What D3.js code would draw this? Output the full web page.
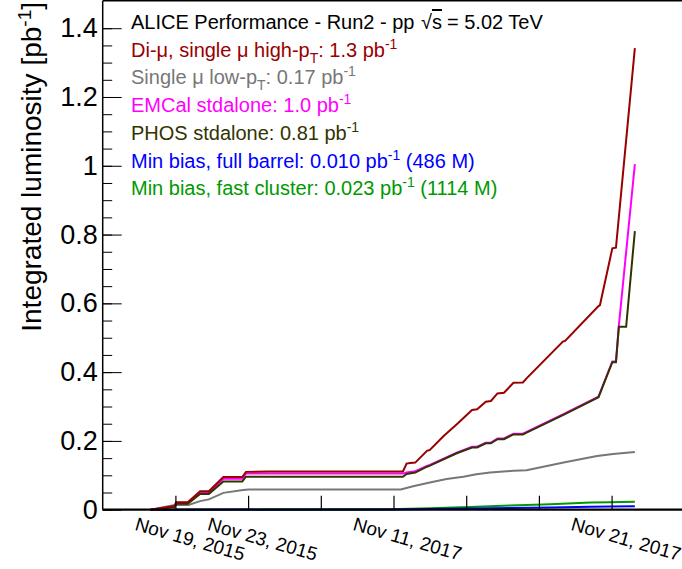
<!DOCTYPE html>
<html>
<head>
<meta charset="utf-8">
<script src="https://cdn.jsdelivr.net/npm/d3@7"></script>
<style>
  body { margin: 0; background: #fff; }
  svg { display: block; }
  text { font-family: "Liberation Sans", Arial, Helvetica, sans-serif; }
</style>
</head>
<body>
<svg id="chart" width="682" height="569"></svg>
<script>
// ---- axis definitions -------------------------------------------------
// x runs over a compressed data-taking index; labelled ticks carry the dates
const xTickValues = [1, 2, 3, 4, 5, 6, 7];
const xTickLabels = ["Nov 19, 2015", "Nov 23, 2015", "", "Nov 11, 2017", "", "", "Nov 21, 2017"];
const yMajorTicks = [0, 0.2, 0.4, 0.6, 0.8, 1.0, 1.2, 1.4];
const yTickLabels = ["0", "0.2", "0.4", "0.6", "0.8", "1", "1.2", "1.4"];

// ---- integrated luminosity per trigger class [pb^-1] --------------------
const diMuon = [
  [0.66, 0], [0.99, 0.011], [1.01, 0.022], [1.17, 0.022], [1.34, 0.054], [1.46, 0.054],
  [1.66, 0.095], [1.92, 0.095], [1.97, 0.110], [2.30, 0.111], [4.13, 0.111],
  [4.18, 0.134], [4.23, 0.136], [4.30, 0.137], [4.46, 0.171], [4.50, 0.174],
  [4.69, 0.214], [4.89, 0.252], [5.08, 0.290], [5.15, 0.292], [5.27, 0.314],
  [5.34, 0.316], [5.43, 0.338], [5.52, 0.340], [5.65, 0.369], [5.78, 0.370],
  [5.83, 0.382], [6.33, 0.489], [6.36, 0.491], [6.82, 0.592], [6.84, 0.595],
  [7.01, 0.760], [7.06, 0.762], [7.32, 1.342]
];
const singleMuLow = [
  [0.66, 0], [0.99, 0.014], [1.18, 0.014], [1.34, 0.025], [1.46, 0.030], [1.66, 0.049],
  [1.93, 0.057], [2.01, 0.059], [4.10, 0.059], [4.27, 0.068], [4.50, 0.079],
  [4.73, 0.089], [4.96, 0.096], [5.14, 0.103], [5.33, 0.108], [5.65, 0.113],
  [5.83, 0.115], [6.34, 0.137], [6.80, 0.156], [7.02, 0.162], [7.32, 0.168]
];
const emcal = [
  [0.66, 0], [0.99, 0.010], [1.01, 0.020], [1.17, 0.020], [1.34, 0.051], [1.46, 0.051],
  [1.66, 0.090], [1.92, 0.090], [1.97, 0.105], [4.13, 0.105], [4.18, 0.108],
  [4.30, 0.112], [4.46, 0.127], [4.50, 0.130], [4.87, 0.166], [5.08, 0.183],
  [5.15, 0.183], [5.27, 0.195], [5.34, 0.195], [5.43, 0.207], [5.52, 0.207],
  [5.65, 0.221], [5.78, 0.221], [5.83, 0.226], [6.33, 0.277], [6.82, 0.329],
  [7.01, 0.431], [7.06, 0.431], [7.10, 0.536], [7.32, 1.005]
];
const phos = [
  [0.66, 0], [0.99, 0.008], [1.01, 0.017], [1.17, 0.017], [1.34, 0.046], [1.46, 0.046],
  [1.66, 0.082], [1.92, 0.082], [1.97, 0.096], [4.13, 0.096], [4.18, 0.104],
  [4.30, 0.108], [4.46, 0.125], [4.50, 0.128], [4.87, 0.164], [5.08, 0.181],
  [5.15, 0.181], [5.27, 0.193], [5.34, 0.193], [5.43, 0.205], [5.52, 0.205],
  [5.65, 0.219], [5.78, 0.219], [5.83, 0.224], [6.33, 0.275], [6.82, 0.327],
  [7.01, 0.429], [7.06, 0.429], [7.10, 0.532], [7.20, 0.532], [7.32, 0.810]
];
const minBiasBarrel = [
  [0.66, 0], [3.95, 0.0005], [4.50, 0.002], [5.05, 0.0035], [5.60, 0.005],
  [6.16, 0.0065], [6.71, 0.0085], [6.98, 0.0095], [7.32, 0.010]
];
const minBiasFast = [
  [0.66, 0], [2.20, 0.001], [3.95, 0.001], [4.50, 0.004], [5.05, 0.008], [5.60, 0.012],
  [6.16, 0.016], [6.71, 0.021], [6.98, 0.022], [7.32, 0.023]
];

const seriesNames = ["Di-μ", "Single μ low", "EMCal", "PHOS", "MB barrel", "MB fast"];
const seriesData = [diMuon, singleMuLow, emcal, phos, minBiasBarrel, minBiasFast];
const seriesColors = ["#990000", "#777777", "#ff00ff", "#333300", "#0000ff", "#009900"];
// drawing order: bottom-most first
const drawOrder = [5, 4, 1, 2, 3, 0];

// ---- legend text (segments: text, kind, optional absolute x) ------------
const legendLines = [
  { color: "#000000", parts: [["ALICE Performance - Run2 - pp"], ["√", "", 421], ["s", "over"], ["= 5.02 TeV", "", 447]] },
  { color: "#990000", parts: [["Di-μ, single μ high-p"], ["T", "sub"], [": 1.3 pb"], ["-1", "sup"]] },
  { color: "#777777", parts: [["Single μ low-p"], ["T", "sub"], [": 0.17 pb"], ["-1", "sup"]] },
  { color: "#ff00ff", parts: [["EMCal stdalone: 1.0 pb"], ["-1", "sup"]] },
  { color: "#333300", parts: [["PHOS stdalone: 0.81 pb"], ["-1", "sup"]] },
  { color: "#0000ff", parts: [["Min bias, full barrel: 0.010 pb"], ["-1", "sup"], [" (486 M)"]] },
  { color: "#009900", parts: [["Min bias, fast cluster: 0.023 pb"], ["-1", "sup"], [" (1114 M)"]] }
];

// ---- layout ------------------------------------------------------------
const svg = d3.select("#chart");
const plotLeft = 102.7, plotRight = 684.3, plotTop = 0.7, plotBottom = 509.7;

const x = d3.scaleLinear().domain([0, 8]).range([plotLeft, plotRight]);
const y = d3.scaleLinear().domain([0, 1.48]).range([plotBottom, plotTop]);

// frame top edge
svg.append("line")
  .attr("x1", plotLeft).attr("x2", plotRight)
  .attr("y1", plotTop).attr("y2", plotTop)
  .attr("stroke", "#000").attr("stroke-width", 1.5);

// ---- curves ------------------------------------------------------------
const line = d3.line().x(d => x(d[0])).y(d => y(d[1]));
const curves = svg.append("g");
drawOrder.forEach(i => {
  curves.append("path")
    .datum(seriesData[i])
    .attr("fill", "none")
    .attr("stroke", seriesColors[i])
    .attr("stroke-width", 2)
    .attr("stroke-linejoin", "miter")
    .attr("d", line);
});

// ---- y axis (ticks pointing into the frame) ----------------------------
const yMinor = d3.range(0, 29).map(i => i * 0.05).filter(v => v <= 1.46);
svg.append("g")
  .attr("transform", `translate(${plotLeft},0)`)
  .call(d3.axisLeft(y).tickValues(yMinor).tickSizeInner(-9.5).tickSizeOuter(0).tickFormat(""))
  .call(g => g.select(".domain").remove())
  .call(g => g.selectAll("line").attr("stroke", "#000").attr("stroke-width", 1));

svg.append("g")
  .attr("transform", `translate(${plotLeft},0)`)
  .call(d3.axisLeft(y).tickValues(yMajorTicks).tickSizeInner(-19).tickSizeOuter(0)
    .tickPadding(5).tickFormat((d, i) => yTickLabels[i]))
  .call(g => g.select(".domain").attr("stroke", "#000").attr("stroke-width", 1.5)
    .attr("d", `M0,${plotTop}V${plotBottom}`))
  .call(g => g.selectAll("line").attr("stroke", "#000").attr("stroke-width", 1))
  .call(g => g.selectAll("text").attr("font-size", 27).attr("fill", "#000")
    .attr("font-family", '"Liberation Sans", Arial, sans-serif'));

// ---- x axis ------------------------------------------------------------
svg.append("g")
  .attr("transform", `translate(0,${plotBottom})`)
  .call(d3.axisBottom(x).tickValues(xTickValues).tickSizeInner(-14).tickSizeOuter(0)
    .tickFormat((d, i) => xTickLabels[i]))
  .call(g => g.select(".domain").attr("stroke", "#000").attr("stroke-width", 2.2)
    .attr("d", `M${plotLeft},0H${plotRight}`))
  .call(g => g.selectAll("line").attr("stroke", "#000").attr("stroke-width", 1.2))
  .call(g => g.selectAll("text")
    .attr("x", 0).attr("y", 0).attr("dy", 0)
    .attr("text-anchor", "start")
    .attr("font-size", 19).attr("fill", "#000")
    .attr("font-family", '"Liberation Sans", Arial, sans-serif')
    .attr("transform", "translate(-42,20) rotate(16)"));

// ---- y axis title ------------------------------------------------------
const yTitle = svg.append("text")
  .attr("transform", "translate(41,2) rotate(-90)")
  .attr("text-anchor", "end")
  .attr("font-size", 28)
  .attr("fill", "#000");
yTitle.append("tspan").text("Integrated luminosity [pb");
yTitle.append("tspan").attr("font-size", 19).attr("dy", -10).text("-1");
yTitle.append("tspan").attr("dy", 10).text("]");

// ---- legend ------------------------------------------------------------
const legend = svg.append("g");
legendLines.forEach((entry, row) => {
  const t = legend.append("text")
    .attr("x", 131)
    .attr("y", 29 + row * 27.7)
    .attr("font-size", 20)
    .attr("fill", entry.color);
  let shift = 0;
  entry.parts.forEach(([str, kind, px]) => {
    const s = t.append("tspan").text(str);
    if (px !== undefined) s.attr("x", px);
    let target = 0;
    if (kind === "sub") { s.attr("font-size", 14); target = 6; }
    else if (kind === "sup") { s.attr("font-size", 14); target = -8; }
    else if (kind === "over") { s.attr("text-decoration", "overline"); }
    s.attr("dy", target - shift);
    shift = target;
  });
});
</script>
</body>
</html>
